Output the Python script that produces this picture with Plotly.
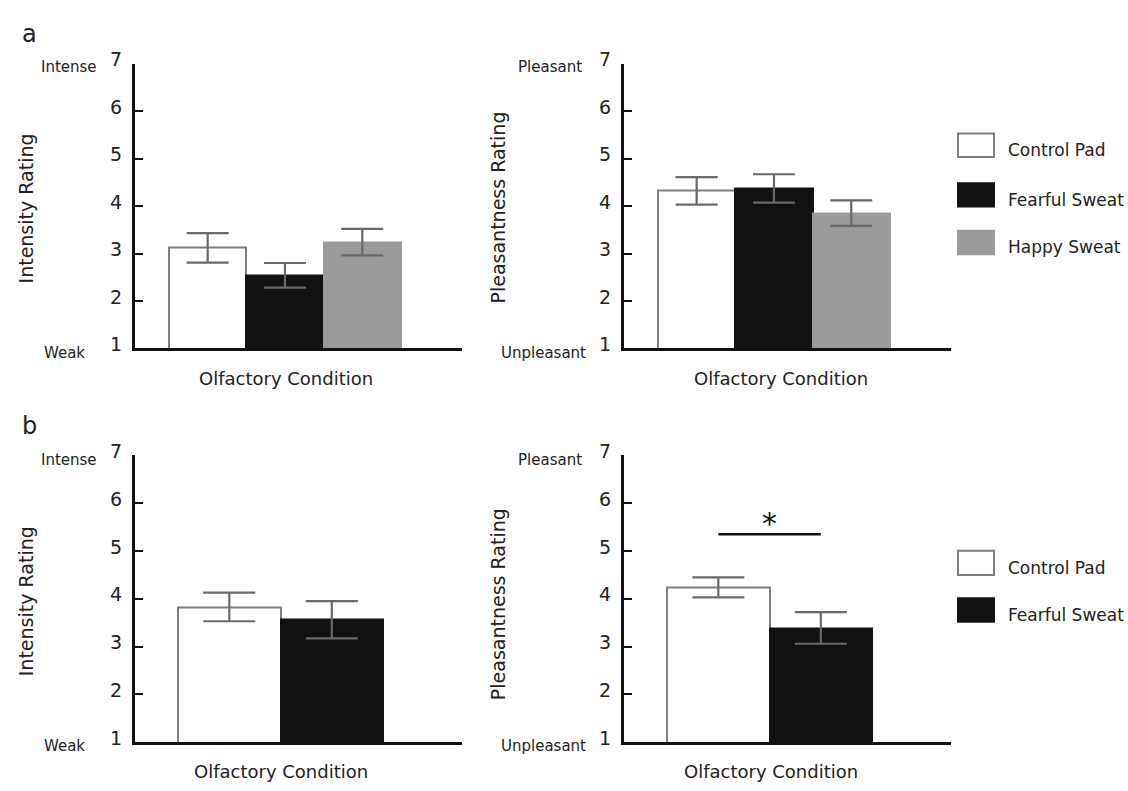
import plotly.graph_objects as go

# ---------------- data ----------------
conditions_a = ["Control Pad", "Fearful Sweat", "Happy Sweat"]
a_intensity = [3.12, 2.54, 3.24]
a_intensity_err = [0.31, 0.26, 0.28]
a_pleasant = [4.32, 4.37, 3.85]
a_pleasant_err = [0.29, 0.30, 0.27]

conditions_b = ["Control Pad", "Fearful Sweat"]
b_intensity = [3.83, 3.56]
b_intensity_err = [0.30, 0.39]
b_pleasant = [4.24, 3.39]
b_pleasant_err = [0.21, 0.33]

sig_level_b = 5.35
y_ticks = [1, 2, 3, 4, 5, 6, 7]

fill_colors = {"Control Pad": "#ffffff", "Fearful Sweat": "#111111", "Happy Sweat": "#9a9a9a"}
line_colors = {"Control Pad": "#7f7f7f", "Fearful Sweat": "#111111", "Happy Sweat": "#9a9a9a"}

W, H = 1128, 791
FONT = "DejaVu Sans"
TXT = "#222222"


def px(x):
    return x / W


def py(y):
    return 1 - y / H


fig = go.Figure()

panels = [
    ("x", "y", conditions_a, a_intensity, a_intensity_err, 21),
    ("x2", "y2", conditions_a, a_pleasant, a_pleasant_err, 21),
    ("x3", "y3", conditions_b, b_intensity, b_intensity_err, 26),
    ("x4", "y4", conditions_b, b_pleasant, b_pleasant_err, 26),
]

for xa, ya, cats, vals, errs, capw in panels:
    fig.add_trace(go.Bar(
        x=cats, y=vals, xaxis=xa, yaxis=ya,
        marker=dict(color=[fill_colors[c] for c in cats],
                    line=dict(color=[line_colors[c] for c in cats], width=2)),
        error_y=dict(type="data", array=errs, visible=True,
                     color="#696969", thickness=2.2, width=capw),
        showlegend=False, hoverinfo="x+y",
    ))

# ---------------- axes ----------------
dom_x_left = [px(135), px(462)]
dom_x_right = [px(624), px(951)]
dom_y_top = [py(343), py(50)]
dom_y_bot = [py(748), py(453)]

def xaxis(domain, anchor, rng):
    return dict(domain=domain, anchor=anchor, range=rng, type="category",
                showline=True, linecolor="#111111", linewidth=3,
                showticklabels=False, ticks="", showgrid=False, zeroline=False,
                fixedrange=True)

def yaxis(domain, anchor):
    return dict(domain=domain, anchor=anchor, range=[1, 7],
                tickvals=y_ticks, ticktext=[str(v) for v in y_ticks],
                showline=True, linecolor="#111111", linewidth=3,
                ticks="inside", ticklen=8, tickwidth=2, tickcolor="#111111",
                ticklabelstandoff=6, ticklabelshift=-4,
                tickfont=dict(family=FONT, size=19, color=TXT),
                showgrid=False, zeroline=False, fixedrange=True)

fig.update_layout(
    xaxis=xaxis(dom_x_left, "y", [-0.94, 3.29]),
    xaxis2=xaxis(dom_x_right, "y2", [-0.94, 3.29]),
    xaxis3=xaxis(dom_x_left, "y3", [-0.92, 2.27]),
    xaxis4=xaxis(dom_x_right, "y4", [-0.92, 2.27]),
    yaxis=yaxis(dom_y_top, "x"),
    yaxis2=yaxis(dom_y_top, "x2"),
    yaxis3=yaxis(dom_y_bot, "x3"),
    yaxis4=yaxis(dom_y_bot, "x4"),
    bargap=0,
    width=W, height=H,
    margin=dict(l=0, r=0, t=0, b=0),
    paper_bgcolor="white", plot_bgcolor="white",
    font=dict(family=FONT, color=TXT),
)

# ---------------- annotations ----------------
ann = []

def text(x, y, s, size, xanchor="center", yanchor="middle", angle=0):
    ann.append(dict(x=px(x), y=py(y), xref="paper", yref="paper", text=s,
                    showarrow=False, xanchor=xanchor, yanchor=yanchor,
                    textangle=angle, font=dict(family=FONT, size=size, color=TXT)))

# panel letters
text(20, 20, "a", 24, xanchor="left")
text(20, 423, "b", 24, xanchor="left")

# axis titles
text(26, 199, "Intensity Rating", 19, angle=-90)
text(498, 198, "Pleasantness Rating", 19, angle=-90)
text(26, 603, "Intensity Rating", 19, angle=-90)
text(498, 606, "Pleasantness Rating", 19, angle=-90)

text(286, 374, "Olfactory Condition", 18)
text(781, 374, "Olfactory Condition", 18)
text(281, 778, "Olfactory Condition", 18)
text(771, 778, "Olfactory Condition", 18)

# scale end labels
text(99, 54, "Intense", 15, xanchor="right")
text(87, 348, "Weak", 15, xanchor="right")
text(584, 54, "Pleasant", 15, xanchor="right")
text(588, 348, "Unpleasant", 15, xanchor="right")
text(99, 458, "Intense", 15, xanchor="right")
text(87, 752, "Weak", 15, xanchor="right")
text(584, 458, "Pleasant", 15, xanchor="right")
text(588, 752, "Unpleasant", 15, xanchor="right")

# significance star
ann.append(dict(x=0.5, y=sig_level_b + 0.22, xref="x4", yref="y4", text="*",
                showarrow=False, xanchor="center", yanchor="middle",
                font=dict(family=FONT, size=30, color="#111111")))

shapes = [dict(type="line", xref="x4", yref="y4", x0=0, x1=1,
               y0=sig_level_b, y1=sig_level_b,
               line=dict(color="#111111", width=2.5))]

# legends
def legend(cats, rows):
    for c, (top, bottom) in zip(cats, rows):
        shapes.append(dict(type="rect", xref="paper", yref="paper",
                           x0=px(958), x1=px(994), y0=py(bottom), y1=py(top),
                           fillcolor=fill_colors[c],
                           line=dict(color=line_colors[c], width=2)))
        text(1006, (top + bottom) / 2 + 5, c, 17, xanchor="left")

legend(conditions_a, [(122, 146), (173, 197), (222, 246)])
legend(conditions_b, [(551, 576), (600, 624)])

fig.update_layout(annotations=ann, shapes=shapes)

fig.write_html("out.html")
